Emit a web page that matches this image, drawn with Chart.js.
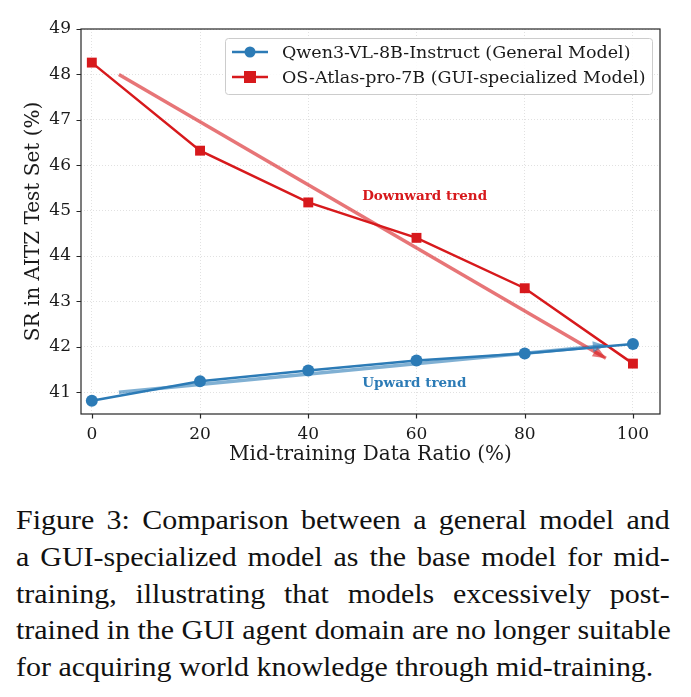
<!DOCTYPE html>
<html>
<head>
<meta charset="utf-8">
<script src="https://cdn.jsdelivr.net/npm/chart.js@4.4.1/dist/chart.umd.min.js"></script>
<style>
  html, body { margin: 0; padding: 0; background: #fff; }
  #wrap { position: relative; width: 691px; height: 697px; overflow: hidden; }
  #box { position: absolute; left: 0; top: 0; width: 691px; height: 490px; }
  #caption {
    position: absolute; left: 16px; top: 502px; width: 611px;
    transform: scaleX(1.07); transform-origin: 0 0;
    font-family: "Liberation Serif", "Times New Roman", serif;
    font-size: 28px; line-height: 36.8px; color: #111;
  }
  #caption div { text-align: justify; text-align-last: justify; white-space: nowrap; }
  #caption div.last { text-align-last: left; }
</style>
</head>
<body>
<div id="wrap">
  <div id="box"><canvas id="chart"></canvas></div>
  <div id="caption">
    <div>Figure 3: Comparison between a general model and</div>
    <div>a GUI-specialized model as the base model for mid-</div>
    <div>training, illustrating that models excessively post-</div>
    <div>trained in the GUI agent domain are no longer suitable</div>
    <div class="last">for acquiring world knowledge through mid-training.</div>
  </div>
</div>
<script>
const ratios = [0, 20, 40, 60, 80, 100];
const qwenSR = [40.81, 41.24, 41.48, 41.70, 41.85, 42.06];
const atlasSR = [48.26, 46.32, 45.18, 44.40, 43.29, 41.63];
const trendX = [5, 95];
const downTrend = [48.0, 41.75];
const upTrend = [41.0, 42.03];
const xTicks = [0, 20, 40, 60, 80, 100];
const yTicks = [41, 42, 43, 44, 45, 46, 47, 48, 49];

const BLUE = '#2c7bb6';
const RED = '#d7191c';
const SERIF = '"DejaVu Serif", serif';

function pts(xs, ys) {
  return xs.map((x, i) => ({ x: x, y: ys[i] }));
}

const extras = {
  id: 'extras',
  beforeDatasetsDraw(chart) {
    const { ctx, chartArea: a } = chart;
    ctx.save();
    ctx.strokeStyle = '#262626';
    ctx.lineWidth = 1.2;
    ctx.strokeRect(a.left, a.top, a.right - a.left, a.bottom - a.top);
    // tick marks
    const xs = chart.scales.x, ys = chart.scales.y;
    ctx.beginPath();
    xTicks.forEach(v => {
      const px = Math.round(xs.getPixelForValue(v)) + 0.5;
      ctx.moveTo(px, a.bottom); ctx.lineTo(px, a.bottom + 4.5);
    });
    yTicks.forEach(v => {
      const py = Math.round(ys.getPixelForValue(v)) + 0.5;
      ctx.moveTo(a.left, py); ctx.lineTo(a.left - 4.5, py);
    });
    ctx.stroke();
    ctx.restore();
  },
  afterDatasetsDraw(chart) {
    const { ctx, chartArea: a } = chart;
    const xs = chart.scales.x, ys = chart.scales.y;
    ctx.save();
    // arrow heads on trend lines
    [[downTrend, 'rgba(215,25,28,0.6)'], [upTrend, 'rgba(44,123,182,0.6)']].forEach(([tr, c]) => {
      const x0 = xs.getPixelForValue(trendX[0]), y0 = ys.getPixelForValue(tr[0]);
      const x1 = xs.getPixelForValue(trendX[1]), y1 = ys.getPixelForValue(tr[1]);
      const ang = Math.atan2(y1 - y0, x1 - x0);
      const L = 13, W = 5.5;
      ctx.fillStyle = c;
      ctx.beginPath();
      ctx.moveTo(x1, y1);
      ctx.lineTo(x1 - L * Math.cos(ang) + W * Math.sin(ang), y1 - L * Math.sin(ang) - W * Math.cos(ang));
      ctx.lineTo(x1 - L * Math.cos(ang) - W * Math.sin(ang), y1 - L * Math.sin(ang) + W * Math.cos(ang));
      ctx.closePath();
      ctx.fill();
    });
    // trend labels
    ctx.font = 'bold 13.5px ' + SERIF;
    ctx.textAlign = 'center';
    ctx.textBaseline = 'middle';
    ctx.fillStyle = RED;
    ctx.fillText('Downward trend', xs.getPixelForValue(61.5), ys.getPixelForValue(45.32));
    ctx.fillStyle = BLUE;
    ctx.fillText('Upward trend', xs.getPixelForValue(59.6), ys.getPixelForValue(41.2));

    // legend
    const lx = 225, ly = 38, lw = 427, lh = 56;
    ctx.fillStyle = 'rgba(255,255,255,0.85)';
    ctx.strokeStyle = '#cccccc';
    ctx.lineWidth = 1;
    ctx.beginPath();
    ctx.roundRect(lx + 0.5, ly + 0.5, lw, lh, 3);
    ctx.fill();
    ctx.stroke();
    const rows = [
      ['Qwen3-VL-8B-Instruct (General Model)', BLUE, 'circle'],
      ['OS-Atlas-pro-7B (GUI-specialized Model)', RED, 'rect']
    ];
    rows.forEach(([label, c, shape], i) => {
      const y = 52 + i * 25;
      ctx.strokeStyle = c;
      ctx.lineWidth = 2.5;
      ctx.beginPath();
      ctx.moveTo(232, y); ctx.lineTo(268, y);
      ctx.stroke();
      ctx.fillStyle = c;
      ctx.beginPath();
      if (shape === 'circle') ctx.arc(250, y, 5.5, 0, Math.PI * 2);
      else ctx.rect(244, y - 6, 12, 12);
      ctx.fill();
      ctx.fillStyle = '#1a1a1a';
      ctx.font = '17.5px ' + SERIF;
      ctx.textAlign = 'left';
      ctx.textBaseline = 'middle';
      ctx.fillText(label, 282, y + 1);
    });

    // axis titles
    ctx.fillStyle = '#1a1a1a';
    ctx.font = '20px ' + SERIF;
    ctx.textAlign = 'center';
    ctx.textBaseline = 'middle';
    ctx.fillText('Mid-training Data Ratio (%)', (a.left + a.right) / 2, 455);
    ctx.translate(34, (a.top + a.bottom) / 2);
    ctx.rotate(-Math.PI / 2);
    ctx.fillText('SR in AITZ Test Set (%)', 0, 0);
    ctx.restore();
  }
};

new Chart(document.getElementById('chart'), {
  type: 'line',
  data: {
    datasets: [{
      label: 'Qwen3-VL-8B-Instruct (General Model)',
      data: pts(ratios, qwenSR),
      borderColor: BLUE,
      backgroundColor: BLUE,
      borderWidth: 2.5,
      pointStyle: 'circle',
      pointRadius: 6,
      pointBorderWidth: 0,
      order: 0
    }, {
      label: 'OS-Atlas-pro-7B (GUI-specialized Model)',
      data: pts(ratios, atlasSR),
      borderColor: RED,
      backgroundColor: RED,
      borderWidth: 2.5,
      pointStyle: 'rect',
      pointRadius: 7,
      pointBorderWidth: 0,
      order: 0
    }, {
      label: 'down',
      data: pts(trendX, downTrend),
      borderColor: 'rgba(215,25,28,0.6)',
      borderWidth: 3.5,
      pointRadius: 0,
      order: 1
    }, {
      label: 'up',
      data: pts(trendX, upTrend),
      borderColor: 'rgba(44,123,182,0.6)',
      borderWidth: 3.5,
      pointRadius: 0,
      order: 1
    }]
  },
  options: {
    responsive: true,
    maintainAspectRatio: false,
    animation: false,
    layout: { padding: { top: 29, right: 31, left: 0, bottom: 0 } },
    plugins: {
      legend: { display: false },
      tooltip: { enabled: false }
    },
    scales: {
      x: {
        type: 'linear',
        min: -2,
        max: 105,
        afterBuildTicks: s => { s.ticks = xTicks.map(v => ({ value: v })); },
        afterFit: s => { s.height = 76; },
        grid: { color: 'rgba(0,0,0,0.15)', lineWidth: 0.8, drawTicks: false },
        border: { display: false, dash: [1, 2] },
        ticks: { padding: 10, color: '#1a1a1a', font: { family: SERIF, size: 17 }, maxRotation: 0 }
      },
      y: {
        min: 40.52,
        max: 49,
        afterBuildTicks: s => { s.ticks = yTicks.map(v => ({ value: v })); },
        afterFit: s => { s.width = 81; },
        grid: { color: 'rgba(0,0,0,0.15)', lineWidth: 0.8, drawTicks: false },
        border: { display: false, dash: [1, 2] },
        ticks: { padding: 10, color: '#1a1a1a', font: { family: SERIF, size: 17 } }
      }
    }
  },
  plugins: [extras]
});
</script>
</body>
</html>
